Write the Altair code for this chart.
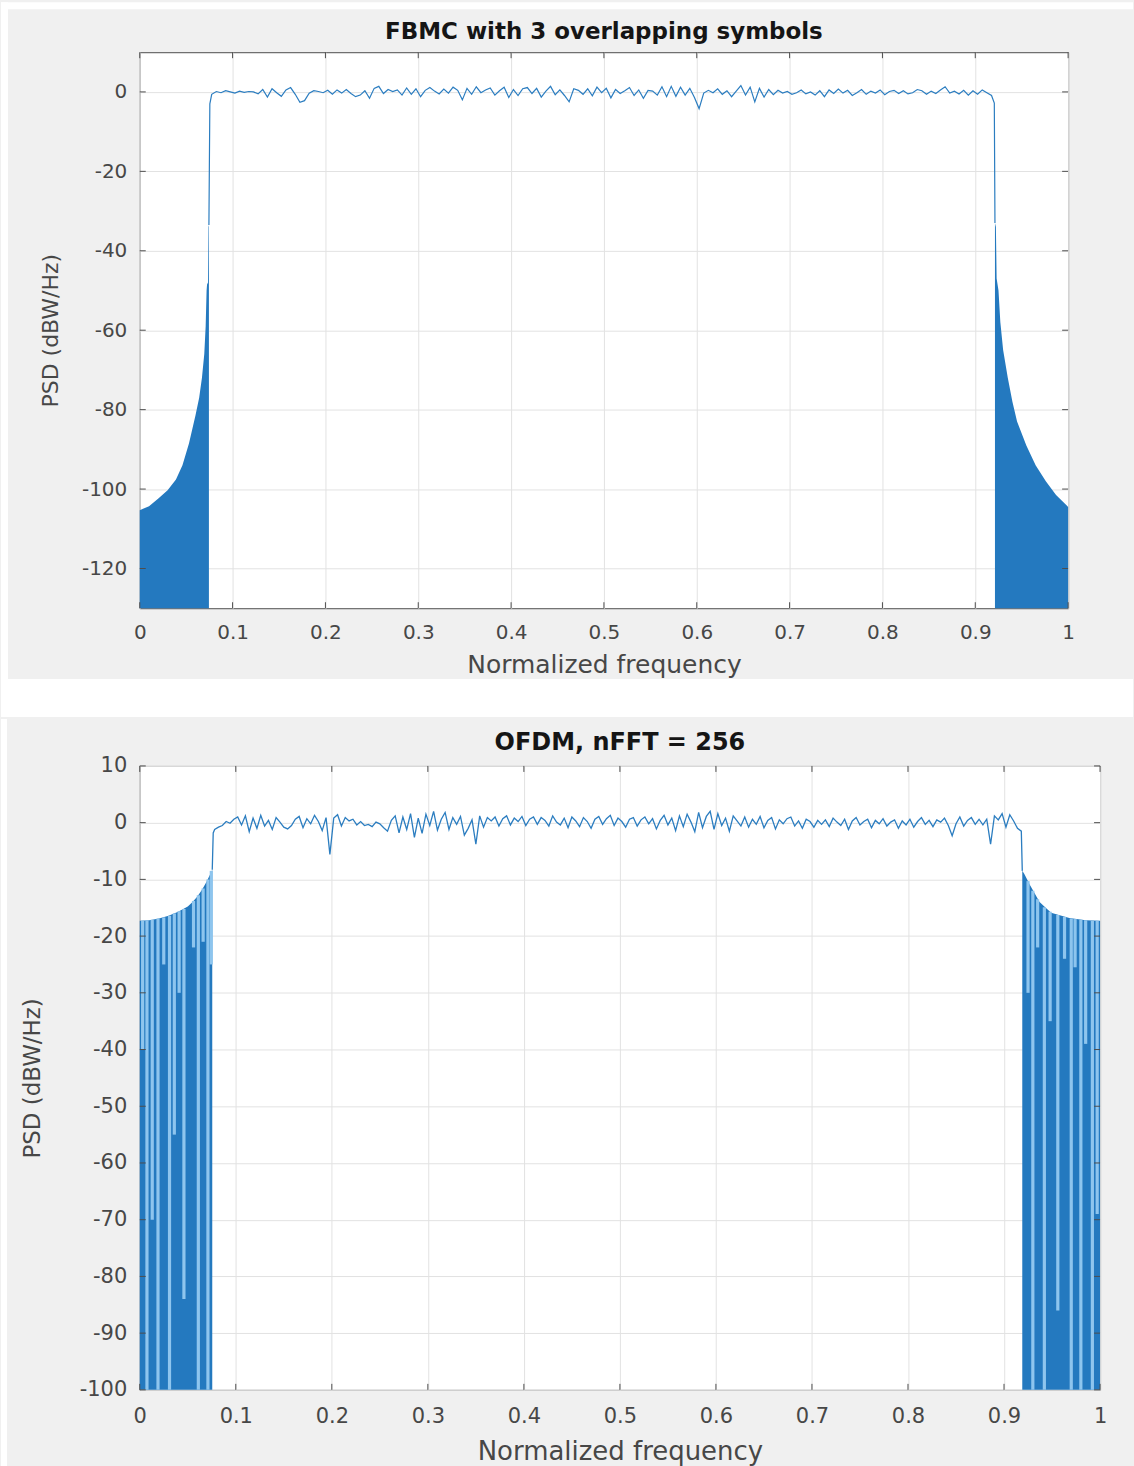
import altair as alt
import pandas as pd

# ---------------- text ----------------
title_top = "FBMC with 3 overlapping symbols"
title_bottom = "OFDM, nFFT = 256"
x_title = "Normalized frequency"
y_title = "PSD (dBW/Hz)"

x_ticks = [0, 0.1, 0.2, 0.3, 0.4, 0.5, 0.6, 0.7, 0.8, 0.9, 1.0]
y_ticks_top = [-120, -100, -80, -60, -40, -20, 0]
y_ticks_bottom = [-100, -90, -80, -70, -60, -50, -40, -30, -20, -10, 0, 10]

# ---------------- FBMC (top) ----------------
fbmc_lobe_left_f = [0.0, 0.01, 0.02, 0.03, 0.039, 0.046, 0.053, 0.06, 0.064, 0.067,
                    0.0695, 0.071, 0.072, 0.0725, 0.0735, 0.074, 0.0745]
fbmc_lobe_left_db = [-105.3, -104.3, -102.4, -100.3, -97.6, -94.0, -88.5, -81.5, -77.0, -72.0,
                     -66.0, -59.0, -50.0, -48.5, -48.0, -34.0, -33.5]
fbmc_lobe_right_f = [0.9212, 0.9222, 0.923, 0.925, 0.927, 0.93, 0.935, 0.94, 0.945, 0.955,
                     0.965, 0.976, 0.987, 0.998, 1.0]
fbmc_lobe_right_db = [-33.0, -34.0, -47.0, -50.0, -58.0, -65.0, -72.0, -78.0, -83.0, -89.0,
                      -94.0, -98.0, -101.5, -104.0, -104.5]

fbmc_pass_f0 = 0.0775
fbmc_pass_step = 0.005
fbmc_pass_db = [
    -0.6, 0.1, -0.2, 0.3, 0.0, -0.3, 0.2, -0.1, 0.1, 0.0,
    -0.5, 0.6, -1.3, 0.8, -0.2, -1.1, 0.5, 1.1, -0.6, -2.6,
    -2.2, -0.3, 0.3, 0.1, -0.2, 0.4, -0.6, 0.5, -0.3, 0.6,
    -0.4, -1.2, -0.8, 0.3, -1.6, 0.9, 1.4, -0.4, 0.6, 0.1,
    0.5, -0.8, 1.0, -0.6, 0.8, -1.2, 0.4, 1.1, 0.2, -0.5,
    0.7, -0.3, 1.2, 0.4, -2.0, 0.9, -0.6, 1.3, -0.2, 0.5,
    1.0, -0.8, 0.3, 1.2, -1.4, 0.6, -0.9, 0.8, 1.1, -0.4,
    0.9, -1.3, 0.2, 1.4, -0.7, 0.5, -0.9, -2.5, 0.8, 0.4,
    -0.6, 0.8, -1.0, 1.2, -0.2, 0.9, -1.5, 0.6, -0.4, 0.3,
    1.1, -0.9, 0.5, -1.6, 0.4, 0.2, -0.8, 1.3, -1.2, 1.4,
    -1.1, 1.2, -0.8, 0.9, -1.4, -4.2, -0.3, 0.4, -0.2, 0.8,
    -0.6, 0.3, -1.2, 0.2, 1.6, -0.8, 1.2, -2.5, 0.9, -1.3,
    0.6, -0.7, 0.4, -0.3, 0.1, -0.6, -0.2, 0.5, -0.5, 0.0,
    -0.8, 0.3, -1.2, 0.5, -0.4, 0.7, -0.3, 0.4, -0.9, -0.2,
    0.6, -0.6, 0.2, -0.3, 0.5, -0.7, 0.1, 0.4, -0.4, 0.3,
    -0.5, -0.2, 0.6, 0.3, -0.6, 0.2, -0.4, 0.5, 1.3, -0.3,
    0.2, -0.5, 0.4, -0.8, 0.3, -0.6, 0.5, -0.2, -0.9,
]
fbmc_edge_in_f = [0.0745, 0.0755]
fbmc_edge_in_db = [-33.5, -3.0]
fbmc_edge_out_f = [0.9205, 0.9212]
fbmc_edge_out_db = [-2.8, -33.0]

# ---------------- OFDM (bottom) ----------------
ofdm_lobe_left_f = [0.0, 0.01, 0.02, 0.03, 0.04, 0.05, 0.055, 0.06, 0.065, 0.07, 0.0755]
ofdm_lobe_left_db = [-17.3, -17.2, -16.9, -16.4, -15.7, -14.8, -14.0, -13.0, -11.8, -10.3, -8.3]
ofdm_lobe_right_f = [0.919, 0.921, 0.927, 0.937, 0.949, 0.968, 0.985, 1.0]
ofdm_lobe_right_db = [-8.5, -9.0, -11.0, -14.0, -15.9, -16.8, -17.2, -17.3]

# light streaks inside the out-of-band blocks: frequency, top, bottom (dB)
ofdm_streak_f = [0.003, 0.0075, 0.013, 0.019, 0.025, 0.031, 0.036, 0.041, 0.046, 0.056, 0.061,
                 0.066, 0.071, 0.0745,
                 0.925, 0.930, 0.935, 0.942, 0.948, 0.956, 0.963, 0.970, 0.974, 0.980, 0.985,
                 0.992, 0.997]
ofdm_streak_top = [-17.3, -17.2, -17.1, -16.9, -16.7, -16.4, -16.0, -15.6, -15.2, -13.8, -12.8,
                   -11.6, -10.0, -8.5,
                   -10.3, -12.0, -13.5, -14.9, -15.7, -16.3, -16.6, -16.9, -17.0, -17.1, -17.2,
                   -17.3, -17.3]
ofdm_streak_bottom = [-40, -100, -70, -100, -25, -100, -55, -30, -84, -22, -100,
                      -21, -100, -25,
                      -30, -100, -22, -100, -35, -86, -24, -100, -25.5, -100, -39,
                      -100, -69]

ofdm_pass_f0 = 0.078
ofdm_pass_step = 0.004
ofdm_pass_db = [
    -1.2, -0.8, -0.5, 0.2, -0.1, 0.6, 1.0, -0.4, 1.2, -1.6,
    0.8, -1.0, 1.3, -0.6, 0.4, -1.2, 0.9, 0.1, -0.8, -1.1,
    -0.5, 0.6, 1.1, -0.9, 0.7, -0.2, 1.3, 0.2, -1.4, 0.9,
    -5.6, 0.8, 1.4, -0.6, 0.9, 0.3, 0.6, -0.4, 0.2, -0.5,
    -0.3, -0.7, 0.1, -0.2, -0.9, -1.5, 0.4, 1.2, -1.8, 1.0,
    -1.2, 1.6, -2.6, 0.8, -1.9, 1.5, -0.5, 2.0, -1.3, 0.6,
    1.8, -1.2, 0.9, -0.3, 1.1, -2.2, -1.0, 0.5, -3.8, 1.2,
    -0.8, 0.9, 0.3, 1.0, -0.6, 0.7, 1.2, -0.4, 0.8, 0.2,
    1.1, -0.5, 0.6, 1.0, -0.3, 0.9, 0.4, -0.6, 1.2, 0.1,
    -0.4, 0.8, -0.9, 1.0, 0.3, -0.7, 0.9, 0.2, -1.0, 0.6,
    1.1, -0.3, 0.7, 1.3, -0.5, 0.8, 0.2, -0.8, 0.6, 0.9,
    -0.6, 0.5, 1.0, -0.2, 0.7, -1.1, 0.4, 1.3, -0.4, 0.8,
    -1.4, 1.2, -0.7, 1.5, 0.1, -1.6, 1.8, -0.9, 1.1, 2.0,
    -1.2, 1.6, -0.5, 0.8, -1.5, 1.2, 0.3, -0.6, 1.0, -0.8,
    0.6, -0.3, 1.1, -0.9, 0.4, 0.9, -1.1, 0.5, -0.2, 0.7,
    1.0, -0.6, 0.3, -1.0, 0.6, 0.2, -0.8, 0.4, -0.3, 0.5,
    -0.7, 0.8, 0.1, -0.5, 0.6, -1.2, 0.3, 0.9, -0.4, 0.2,
    0.6, -0.9, 0.4, -0.2, 0.7, -0.6, 0.1, 0.5, -1.0, 0.3,
    -0.4, 0.6, -0.8, 0.2, 0.9, -0.3, 0.4, -0.7, 0.5, 0.1,
    0.8, -0.5, -2.3, -0.2, 1.0, -0.6, 0.4, 0.9, -0.3, 0.6,
    -0.4, 0.6, -3.8, 1.2, 0.5, 1.6, -0.8, 1.4, 0.3, -1.0,
    -1.5,
]
ofdm_edge_in_f = [0.0755, 0.0765]
ofdm_edge_in_db = [-8.3, -1.8]
ofdm_edge_out_f = [0.919]
ofdm_edge_out_db = [-8.5]

# ---------------- style ----------------
FONT = "DejaVu Sans"
FIG_BG = "#f0f0f0"
GRID = "#e2e2e2"
BOX = "#4d4d4d"
LAB = "#474747"
BLUE = "#2479bf"
LINE = "#2b7dc0"
STREAK = "#8ec5ee"
TICK_LEN = 6
LABEL_EXPR = "'' + datum.value"   # plain hyphen-minus like the original

W1, H1 = 930, 557
W2, H2 = 962, 625


def pass_frame(f0, step, vals, fin, din, fout, dout):
    f = fin + [round(f0 + i * step, 5) for i in range(len(vals))] + fout
    d = din + list(vals) + dout
    return pd.DataFrame({"f": f, "db": d})


fbmc_line = pass_frame(fbmc_pass_f0, fbmc_pass_step, fbmc_pass_db,
                       fbmc_edge_in_f, fbmc_edge_in_db, fbmc_edge_out_f, fbmc_edge_out_db)
ofdm_line = pass_frame(ofdm_pass_f0, ofdm_pass_step, ofdm_pass_db,
                       ofdm_edge_in_f, ofdm_edge_in_db, ofdm_edge_out_f, ofdm_edge_out_db)
fbmc_left = pd.DataFrame({"f": fbmc_lobe_left_f, "db": fbmc_lobe_left_db})
fbmc_right = pd.DataFrame({"f": fbmc_lobe_right_f, "db": fbmc_lobe_right_db})
ofdm_left = pd.DataFrame({"f": ofdm_lobe_left_f, "db": ofdm_lobe_left_db})
ofdm_right = pd.DataFrame({"f": ofdm_lobe_right_f, "db": ofdm_lobe_right_db})
ofdm_streaks = pd.DataFrame({"f": ofdm_streak_f, "top": ofdm_streak_top, "bottom": ofdm_streak_bottom})


def x_enc(label_pad, title_y, fs, tfs):
    return alt.X("f:Q", scale=alt.Scale(domain=[0, 1], nice=False, zero=False),
                 axis=alt.Axis(values=x_ticks, labelExpr=LABEL_EXPR, grid=True, gridColor=GRID,
                               ticks=False, domain=False, labelFont=FONT, labelFontSize=fs,
                               labelColor=LAB, labelPadding=label_pad, labelFlush=False,
                               title=x_title, titleFont=FONT, titleFontSize=tfs,
                               titleFontWeight="normal", titleColor=LAB, titleY=title_y,
                               titleBaseline="middle"))


def y_enc(domain, ticks, h, title_x, fs, tfs):
    return alt.Y("db:Q", scale=alt.Scale(domain=domain, nice=False, zero=False),
                 axis=alt.Axis(values=ticks, labelExpr=LABEL_EXPR, grid=True, gridColor=GRID,
                               ticks=False, domain=False, labelFont=FONT, labelFontSize=fs,
                               labelColor=LAB, labelPadding=13, labelFlush=False,
                               title=y_title, titleFont=FONT, titleFontSize=tfs,
                               titleFontWeight="normal", titleColor=LAB, titleX=title_x,
                               titleY=h / 2, titleAngle=-90, titleBaseline="middle",
                               titleAlign="center"))


def band(x0, x1, y0, y1, color):
    return alt.Chart(alt.Data(values=[{"k": 0}])).mark_rect(color=color).encode(
        x=alt.value(x0), x2=alt.value(x1), y=alt.value(y0), y2=alt.value(y1))


def title_mark(text, w, y, fs):
    return alt.Chart(alt.Data(values=[{"t": text}])).mark_text(
        font=FONT, fontSize=fs, fontWeight="bold", color="#151515", baseline="middle"
    ).encode(text="t:N", x=alt.value(w / 2), y=alt.value(y))


def inner_ticks(xvals, yvals, w, h):
    """MATLAB-style inward tick marks on all four sides of the box."""
    xt = pd.DataFrame({"f": xvals})
    yt = pd.DataFrame({"db": yvals})
    rule = dict(color=BOX, strokeWidth=1)
    return [
        alt.Chart(xt).mark_rule(**rule).encode(x="f:Q", y=alt.value(h), y2=alt.value(h - TICK_LEN)),
        alt.Chart(xt).mark_rule(**rule).encode(x="f:Q", y=alt.value(0), y2=alt.value(TICK_LEN)),
        alt.Chart(yt).mark_rule(**rule).encode(y="db:Q", x=alt.value(0), x2=alt.value(TICK_LEN)),
        alt.Chart(yt).mark_rule(**rule).encode(y="db:Q", x=alt.value(w), x2=alt.value(w - TICK_LEN)),
    ]


# ---------------- top panel ----------------
xt = x_enc(14, 56, 20, 25)
yt = y_enc([-130, 10], y_ticks_top, H1, -89, 20, 22)
top_left = alt.Chart(fbmc_left).mark_area(color=BLUE, opacity=1).encode(
    x=xt, y=yt, y2=alt.datum(-130))
top_right = alt.Chart(fbmc_right).mark_area(color=BLUE, opacity=1).encode(
    x="f:Q", y="db:Q", y2=alt.datum(-130))
top_line = alt.Chart(fbmc_line).mark_line(color=LINE, strokeWidth=1.2).encode(
    x="f:Q", y="db:Q")

top = alt.layer(
    top_left, top_right, top_line,
    *inner_ticks(x_ticks, y_ticks_top, W1, H1),
    band(-139, 995, -50, -43, "white"),
    band(-139, -132, -50, 628, "white"),
    band(-139, 995, 628, 666, "white"),
    title_mark(title_top, W1, -20, 23),
).properties(width=W1, height=H1)

# ---------------- bottom panel ----------------
xb = x_enc(16, 62, 21, 26)
yb = y_enc([-100, 10], y_ticks_bottom, H2, -107, 21, 23)
bot_left = alt.Chart(ofdm_left).mark_area(color=BLUE, opacity=1).encode(
    x=xb, y=yb, y2=alt.datum(-100))
bot_right = alt.Chart(ofdm_right).mark_area(color=BLUE, opacity=1).encode(
    x="f:Q", y="db:Q", y2=alt.datum(-100))
bot_streaks = alt.Chart(ofdm_streaks).mark_rule(color=STREAK, strokeWidth=3.2).encode(
    x="f:Q", y="top:Q", y2="bottom:Q")
bot_line = alt.Chart(ofdm_line).mark_line(color=LINE, strokeWidth=1.3).encode(
    x="f:Q", y="db:Q")

bottom = alt.layer(
    bot_left, bot_right, bot_streaks, bot_line,
    *inner_ticks(x_ticks, y_ticks_bottom, W2, H2),
    band(-139, -133, -47, 703, "white"),
    title_mark(title_bottom, W2, -23, 24),
).properties(width=W2, height=H2)

chart = alt.vconcat(top, bottom, spacing=0).configure(
    background=FIG_BG, padding=0
).configure_view(fill="white", stroke=BOX, strokeWidth=1)

chart.save("out.html", embed_options={"renderer": "svg", "actions": False})
